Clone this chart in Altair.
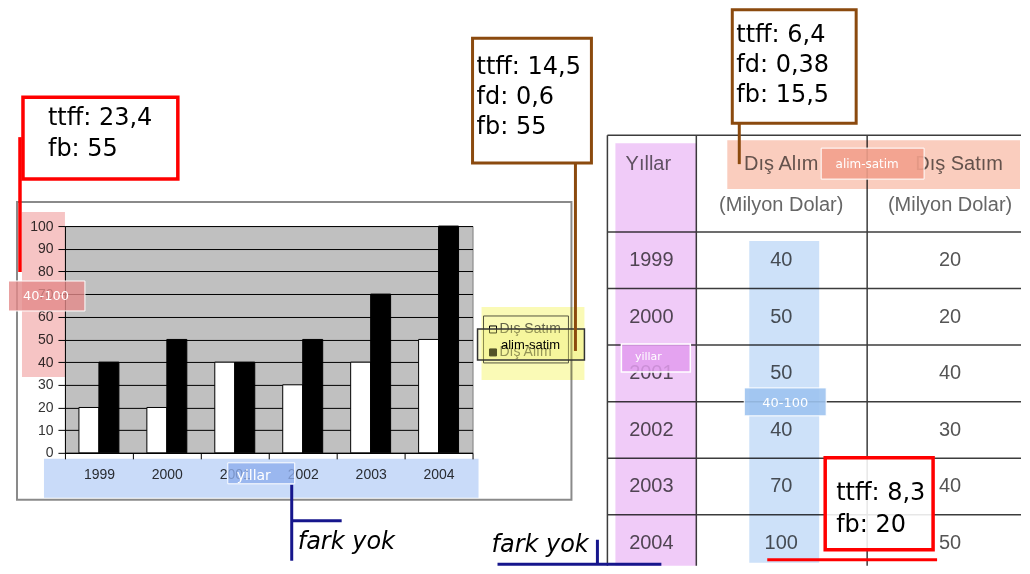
import altair as alt
import pandas as pd

# ---------------- data ----------------
years = ['1999', '2000', '2001', '2002', '2003', '2004']
series = ['Dış Satım', 'Dış Alım']
chart_satim = [20, 20, 40, 30, 40, 50]
chart_alim = [40, 50, 40, 50, 70, 100]
table_alim = [40, 50, 50, 40, 70, 100]
table_satim = [20, 20, 40, 30, 40, 50]
y_ticks = list(range(0, 101, 10))
header_top = ['Yıllar', 'Dış Alım', 'Dış Satım']
header_sub = ['(Milyon Dolar)', '(Milyon Dolar)']
aoi_names = ['40-100', 'yillar', 'alim-satim']
note_left = ['ttff: 23,4', 'fb: 55']
note_mid = ['ttff: 14,5', 'fd: 0,6', 'fb: 55']
note_top = ['ttff: 6,4', 'fd: 0,38', 'fb: 15,5']
note_table = ['ttff: 8,3', 'fb: 20']
no_diff = 'fark yok'

SANS = 'Liberation Sans'
NOTE = 'DejaVu Sans'

# page coordinates of the bar chart's plot area origin
OX, OY = 65, 226
W, H = 408, 227


def px(x):
    return x - OX


def py(y):
    return y - OY


one = pd.DataFrame({'k': [0]})


def rect(x0, y0, x1, y1, fill='white', fo=1.0, stroke=None, sw=0, op=None, blend=None):
    kw = dict(fill=fill, fillOpacity=fo)
    if stroke:
        kw.update(stroke=stroke, strokeWidth=sw)
    if op is not None:
        kw['opacity'] = op
    if blend:
        kw['blend'] = blend
    return alt.Chart(one).mark_rect(**kw).encode(
        x=alt.value(px(x0)), x2=alt.value(px(x1)),
        y=alt.value(py(y0)), y2=alt.value(py(y1)))


def line(x0, y0, x1, y1, color, width):
    return alt.Chart(one).mark_rule(color=color, strokeWidth=width).encode(
        x=alt.value(px(x0)), x2=alt.value(px(x1)),
        y=alt.value(py(y0)), y2=alt.value(py(y1)))


def text(s, x, y, size, color='black', font=SANS, align='left', style=None):
    kw = dict(text=s, font=font, fontSize=size, color=color, align=align, baseline='middle')
    if style:
        kw['fontStyle'] = style
    return alt.Chart(one).mark_text(**kw).encode(x=alt.value(px(x)), y=alt.value(py(y)))


layers = []
# invisible anchor covering the whole page area
layers.append(rect(8, 8, 1022, 566, op=0))
# Excel chart-area frame
layers.append(rect(17, 202, 572, 500, fo=0, stroke='#8a8a8a', sw=2))

# ---------------- bar chart ----------------
bar_df = pd.DataFrame({
    'Yil': years * 2,
    'Seri': [series[0]] * len(years) + [series[1]] * len(years),
    'Deger': chart_satim + chart_alim,
})
bars = alt.Chart(bar_df).mark_bar(stroke='black', strokeWidth=1).encode(
    x=alt.X('Yil:N', sort=years, scale=alt.Scale(paddingInner=0, paddingOuter=0),
            axis=alt.Axis(title=None, labelAngle=0, tickBand='extent', tickSize=6,
                          tickColor='black', domainColor='black', labelFont=SANS,
                          labelFontSize=14, labelColor='#333', labelPadding=9, grid=False)),
    xOffset=alt.XOffset('Seri:N', sort=series,
                        scale=alt.Scale(domain=series, paddingInner=0, paddingOuter=0.7)),
    y=alt.Y('Deger:Q', scale=alt.Scale(domain=[0, 100], nice=False),
            axis=alt.Axis(title=None, values=y_ticks, grid=True, gridColor='black',
                          gridWidth=1, gridOpacity=1, tickSize=7, tickColor='black',
                          domainColor='black', labelPadding=5, labelFont=SANS,
                          labelFontSize=14, labelColor='#333')),
    fill=alt.Fill('Seri:N', scale=alt.Scale(domain=series, range=['white', 'black']), legend=None),
)
layers.append(bars)

# Excel-like legend
layers.append(rect(484, 316, 569, 363, fill='white', stroke='#555', sw=1))
layers.append(rect(490, 326, 497, 333, fill='white', stroke='black', sw=1))
layers.append(rect(490, 349, 497, 356, fill='black', stroke='black', sw=1))
layers.append(text(series[0], 500, 329, 14, '#666'))
layers.append(text(series[1], 500, 352, 14, '#666'))

# ---------------- table ----------------
tbl = pd.DataFrame({'Yil2': years, 'alim': table_alim, 'satim': table_satim})
row_scale = alt.Scale(domain=years, range=[py(232), py(571.5)], paddingInner=0, paddingOuter=0)
base_t = alt.Chart(tbl)
TL = '#3c3c3c'
layers.append(base_t.mark_rule(color=TL, strokeWidth=1.5).encode(
    y=alt.Y('Yil2:O', sort=years, scale=row_scale, axis=None, bandPosition=0),
    x=alt.value(px(608)), x2=alt.value(px(1022))))
layers.append(line(608, 135, 1022, 135, TL, 1.5))
for xv in (608, 697, 868):
    layers.append(line(xv, 135, xv, 566, TL, 1.5))

for field, xc in (('Yil2', 652), ('alim', 782), ('satim', 951)):
    layers.append(base_t.mark_text(font=SANS, fontSize=20, color='#555', baseline='middle',
                                   align='center').encode(
        y=alt.Y('Yil2:O', sort=years, scale=row_scale, axis=None),
        x=alt.value(px(xc)), text=alt.Text(f'{field}:N')))

layers.append(text(header_top[0], 649, 164, 20, '#666', align='center'))
layers.append(text(header_top[1], 782, 164, 20, '#666', align='center'))
layers.append(text(header_top[2], 960, 164, 20, '#666', align='center'))
layers.append(text(header_sub[0], 782, 205, 20, '#666', align='center'))
layers.append(text(header_sub[1], 951, 205, 20, '#666', align='center'))

# ---------------- areas of interest (multiply-blended tints) ----------------
layers.append(rect(22, 212, 65, 377, fill='#F6C4C4', blend='multiply'))     # y axis
layers.append(rect(44, 459, 479, 498, fill='#C9DBF9', blend='multiply'))    # x axis
layers.append(rect(482, 307, 585, 380, fill='#FAFAB6', blend='multiply'))   # legend
layers.append(rect(616, 143, 697, 566, fill='#F0CBF8', blend='multiply'))   # year column
layers.append(rect(728, 140, 1021, 189, fill='#FACDBE', blend='multiply'))  # header
layers.append(rect(750, 241, 820, 563, fill='#CDE1F9', blend='multiply'))   # alim column

# AOI labels
layers.append(rect(8.5, 281, 85, 311, fill='#E48A8A', fo=0.8, stroke='white', sw=1))
layers.append(text(aoi_names[0], 46, 296, 13, 'white', NOTE, 'center'))
layers.append(rect(228, 463, 295, 484, fill='#8EAEEC', fo=0.8, stroke='white', sw=1))
layers.append(text(aoi_names[1], 254, 476, 14, 'white', NOTE, 'center'))
layers.append(rect(478, 329, 585, 360, fill='#EEEE70', fo=0.35, stroke='#333', sw=1.5))
layers.append(text(aoi_names[2], 531, 345, 13, 'black', SANS, 'center'))
layers.append(rect(622, 344, 691, 372, fill='#E29CEE', fo=0.85, stroke='white', sw=1.5))
layers.append(text(aoi_names[1], 649, 357, 11, 'white', NOTE, 'center'))
layers.append(rect(822, 148, 925, 179, fill='#F2A08C', fo=0.9, stroke='white', sw=1))
layers.append(text(aoi_names[2], 868, 164, 12, 'white', NOTE, 'center'))
layers.append(rect(745, 388, 827, 416, fill='#9DC3F0', fo=0.9, stroke='white', sw=1))
layers.append(text(aoi_names[0], 786, 403, 13, 'white', NOTE, 'center'))

# ---------------- annotation boxes ----------------
RED = '#FF0000'
BROWN = '#8B4A0E'
NAVY = '#16168C'

layers.append(line(20, 137, 20, 272, RED, 3.5))
layers.append(rect(23, 97, 178, 179, fill='white', stroke=RED, sw=3.5))
for i, s in enumerate(note_left):
    layers.append(text(s, 48, 118 + i * 31, 24, 'black', NOTE))

layers.append(line(576, 163, 576, 351, BROWN, 3))
layers.append(rect(473, 38, 592, 163, fill='white', stroke=BROWN, sw=3))
for i, s in enumerate(note_mid):
    layers.append(text(s, 477, 67 + i * 30, 24, 'black', NOTE))

layers.append(line(740, 123, 740, 164, BROWN, 3))
layers.append(rect(733, 9.5, 857, 123, fill='white', stroke=BROWN, sw=3))
for i, s in enumerate(note_top):
    layers.append(text(s, 737, 35 + i * 30, 24, 'black', NOTE))

layers.append(line(768, 560, 938, 560, RED, 3))
layers.append(rect(826, 458, 934, 550, fill='white', fo=0.88, stroke=RED, sw=3.5))
for i, s in enumerate(note_table):
    layers.append(text(s, 837, 493 + i * 32, 24, 'black', NOTE))

layers.append(line(292, 485, 292, 561, NAVY, 3))
layers.append(line(292, 521, 342, 521, NAVY, 3))
layers.append(text(no_diff, 298, 542, 24, 'black', NOTE, style='italic'))
layers.append(line(598, 540, 598, 564.5, NAVY, 3))
layers.append(line(498, 564.5, 662, 564.5, NAVY, 3))
layers.append(text(no_diff, 492, 545, 24, 'black', NOTE, style='italic'))

chart = alt.layer(*layers).resolve_scale(x='independent', y='independent').properties(
    width=W, height=H, padding=0
).configure(background='white').configure_view(fill='#C0C0C0', stroke='#808080', strokeWidth=1)

chart.save('out.html', embed_options={'renderer': 'svg', 'actions': False})
